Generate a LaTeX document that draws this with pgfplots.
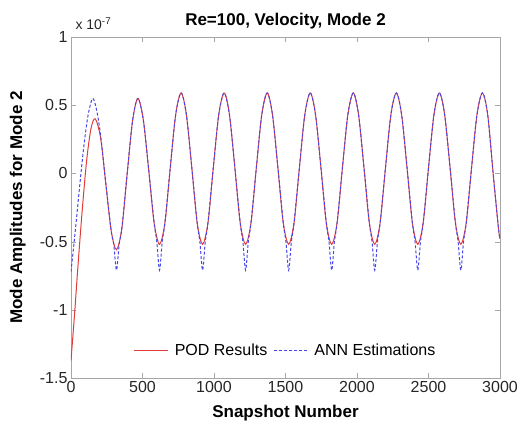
\documentclass[border=0pt]{standalone}
\usepackage{fontspec}
\setmainfont{Liberation Sans}
\usepackage{pgfplots}
\pgfplotsset{compat=1.18}
\definecolor{podred}{RGB}{225,60,60}
\definecolor{annblue}{RGB}{70,70,235}
\begin{document}
\begin{tikzpicture}
\begin{axis}[name=ax,
  scale only axis, width=429pt, height=341pt,
  xmin=0, xmax=3000, ymin=-1.5, ymax=1,
  xtick={0,500,...,3000},
  ytick={-1.5,-1,-0.5,0,0.5,1},
  yticklabels={-1.5,-1,-0.5,0,0.5,1},
  scaled y ticks=false,
  /pgf/number format/1000 sep={},
  /pgf/number format/assume math mode=true,
  tick label style={font=\fontsize{16}{18}\selectfont, text=black!85},
  axis line style={gray!70},
  tick style={gray!70},
  major tick length=5pt,
  title={\textbf{Re=100, Velocity, Mode 2}},
  title style={at={(axis description cs:0.5,1)}, yshift=10pt, anchor=center, font=\fontsize{17}{20}\selectfont},
  xlabel={\textbf{Snapshot Number}},
  xlabel style={at={(axis description cs:0.5,0)}, yshift=-35pt, anchor=center, font=\fontsize{17}{20}\selectfont},
  ylabel={\textbf{Mode Amplitudes for Mode 2}},
  ylabel style={at={(axis description cs:-0.124,0.5)}, anchor=center, font=\fontsize{17}{20}\selectfont},
  legend style={at={(0.5,0.05)}, anchor=south, draw=none, fill=none, legend columns=2, font=\fontsize{16}{18}\selectfont, column sep=4pt},
  legend image code/.code={\draw[#1] (0cm,0cm) -- (1.2cm,0cm);},
]
\addplot[podred, line width=1pt, smooth, tension=0.5] coordinates {
(0,-1.37) (25,-1.03) (50,-0.66) (80,-0.25) (110,0.10) (140,0.33) (170,0.40)
(207,0.26) (244,-0.08) (281,-0.42) (318,-0.56)
(356,-0.40) (393,0.00) (431,0.39) (468,0.55) (506,0.39) (544,0.02) (581,-0.36) (619,-0.52)
(657,-0.36) (694,0.04) (732,0.43) (770,0.59) (807,0.43) (845,0.04) (882,-0.36) (920,-0.52)
(958,-0.36) (995,0.04) (1033,0.43) (1071,0.59) (1108,0.43) (1146,0.04) (1183,-0.36) (1221,-0.52)
(1259,-0.36) (1296,0.04) (1334,0.43) (1372,0.59) (1409,0.43) (1447,0.04) (1484,-0.36) (1522,-0.52)
(1560,-0.36) (1597,0.04) (1635,0.43) (1673,0.59) (1710,0.43) (1748,0.04) (1785,-0.36) (1823,-0.52)
(1861,-0.36) (1898,0.04) (1936,0.43) (1974,0.59) (2011,0.43) (2049,0.04) (2086,-0.36) (2124,-0.52)
(2162,-0.36) (2199,0.04) (2237,0.43) (2275,0.59) (2312,0.43) (2350,0.04) (2387,-0.36) (2425,-0.52)
(2463,-0.36) (2500,0.04) (2538,0.43) (2576,0.59) (2613,0.43) (2651,0.04) (2688,-0.36) (2726,-0.52)
(2764,-0.36) (2801,0.04) (2839,0.43) (2877,0.59) (2914,0.43) (2952,0.00) (2989,-0.40) (3000,-0.48)
};
\addlegendentry{POD Results}
\addplot[annblue, line width=1pt, densely dashed, smooth, tension=0.5] coordinates {
(0,-0.72) (30,-0.42) (60,-0.10) (90,0.20) (120,0.43) (152,0.55) (180,0.46)
(207,0.28) (244,-0.08) (281,-0.42) (299,-0.52) (318,-0.71) (337,-0.52)
(356,-0.40) (393,0.00) (431,0.39) (468,0.55) (506,0.39) (544,0.02) (581,-0.36) (600,-0.50) (619,-0.71) (638,-0.50)
(657,-0.36) (694,0.04) (732,0.43) (770,0.59) (807,0.43) (845,0.04) (882,-0.36) (901,-0.50) (920,-0.71) (939,-0.50)
(958,-0.36) (995,0.04) (1033,0.43) (1071,0.59) (1108,0.43) (1146,0.04) (1183,-0.36) (1202,-0.50) (1221,-0.71) (1240,-0.50)
(1259,-0.36) (1296,0.04) (1334,0.43) (1372,0.59) (1409,0.43) (1447,0.04) (1484,-0.36) (1503,-0.50) (1522,-0.71) (1541,-0.50)
(1560,-0.36) (1597,0.04) (1635,0.43) (1673,0.59) (1710,0.43) (1748,0.04) (1785,-0.36) (1804,-0.50) (1823,-0.71) (1842,-0.50)
(1861,-0.36) (1898,0.04) (1936,0.43) (1974,0.59) (2011,0.43) (2049,0.04) (2086,-0.36) (2105,-0.50) (2124,-0.71) (2143,-0.50)
(2162,-0.36) (2199,0.04) (2237,0.43) (2275,0.59) (2312,0.43) (2350,0.04) (2387,-0.36) (2406,-0.50) (2425,-0.71) (2444,-0.50)
(2463,-0.36) (2500,0.04) (2538,0.43) (2576,0.59) (2613,0.43) (2651,0.04) (2688,-0.36) (2707,-0.50) (2726,-0.71) (2745,-0.50)
(2764,-0.36) (2801,0.04) (2839,0.43) (2877,0.59) (2914,0.43) (2952,0.00) (2989,-0.40) (3000,-0.48)
};
\addlegendentry{ANN Estimations}
\end{axis}
\node[anchor=base west, font=\fontsize{14}{16}\selectfont, text=black!85] at ([xshift=1pt,yshift=7pt]ax.north west) {x 10\textsuperscript{-7}};
\pgfresetboundingbox
\path[use as bounding box] ([xshift=-71pt,yshift=-46pt]ax.south west) rectangle ([xshift=29pt,yshift=37pt]ax.north east);
\end{tikzpicture}
\end{document}
